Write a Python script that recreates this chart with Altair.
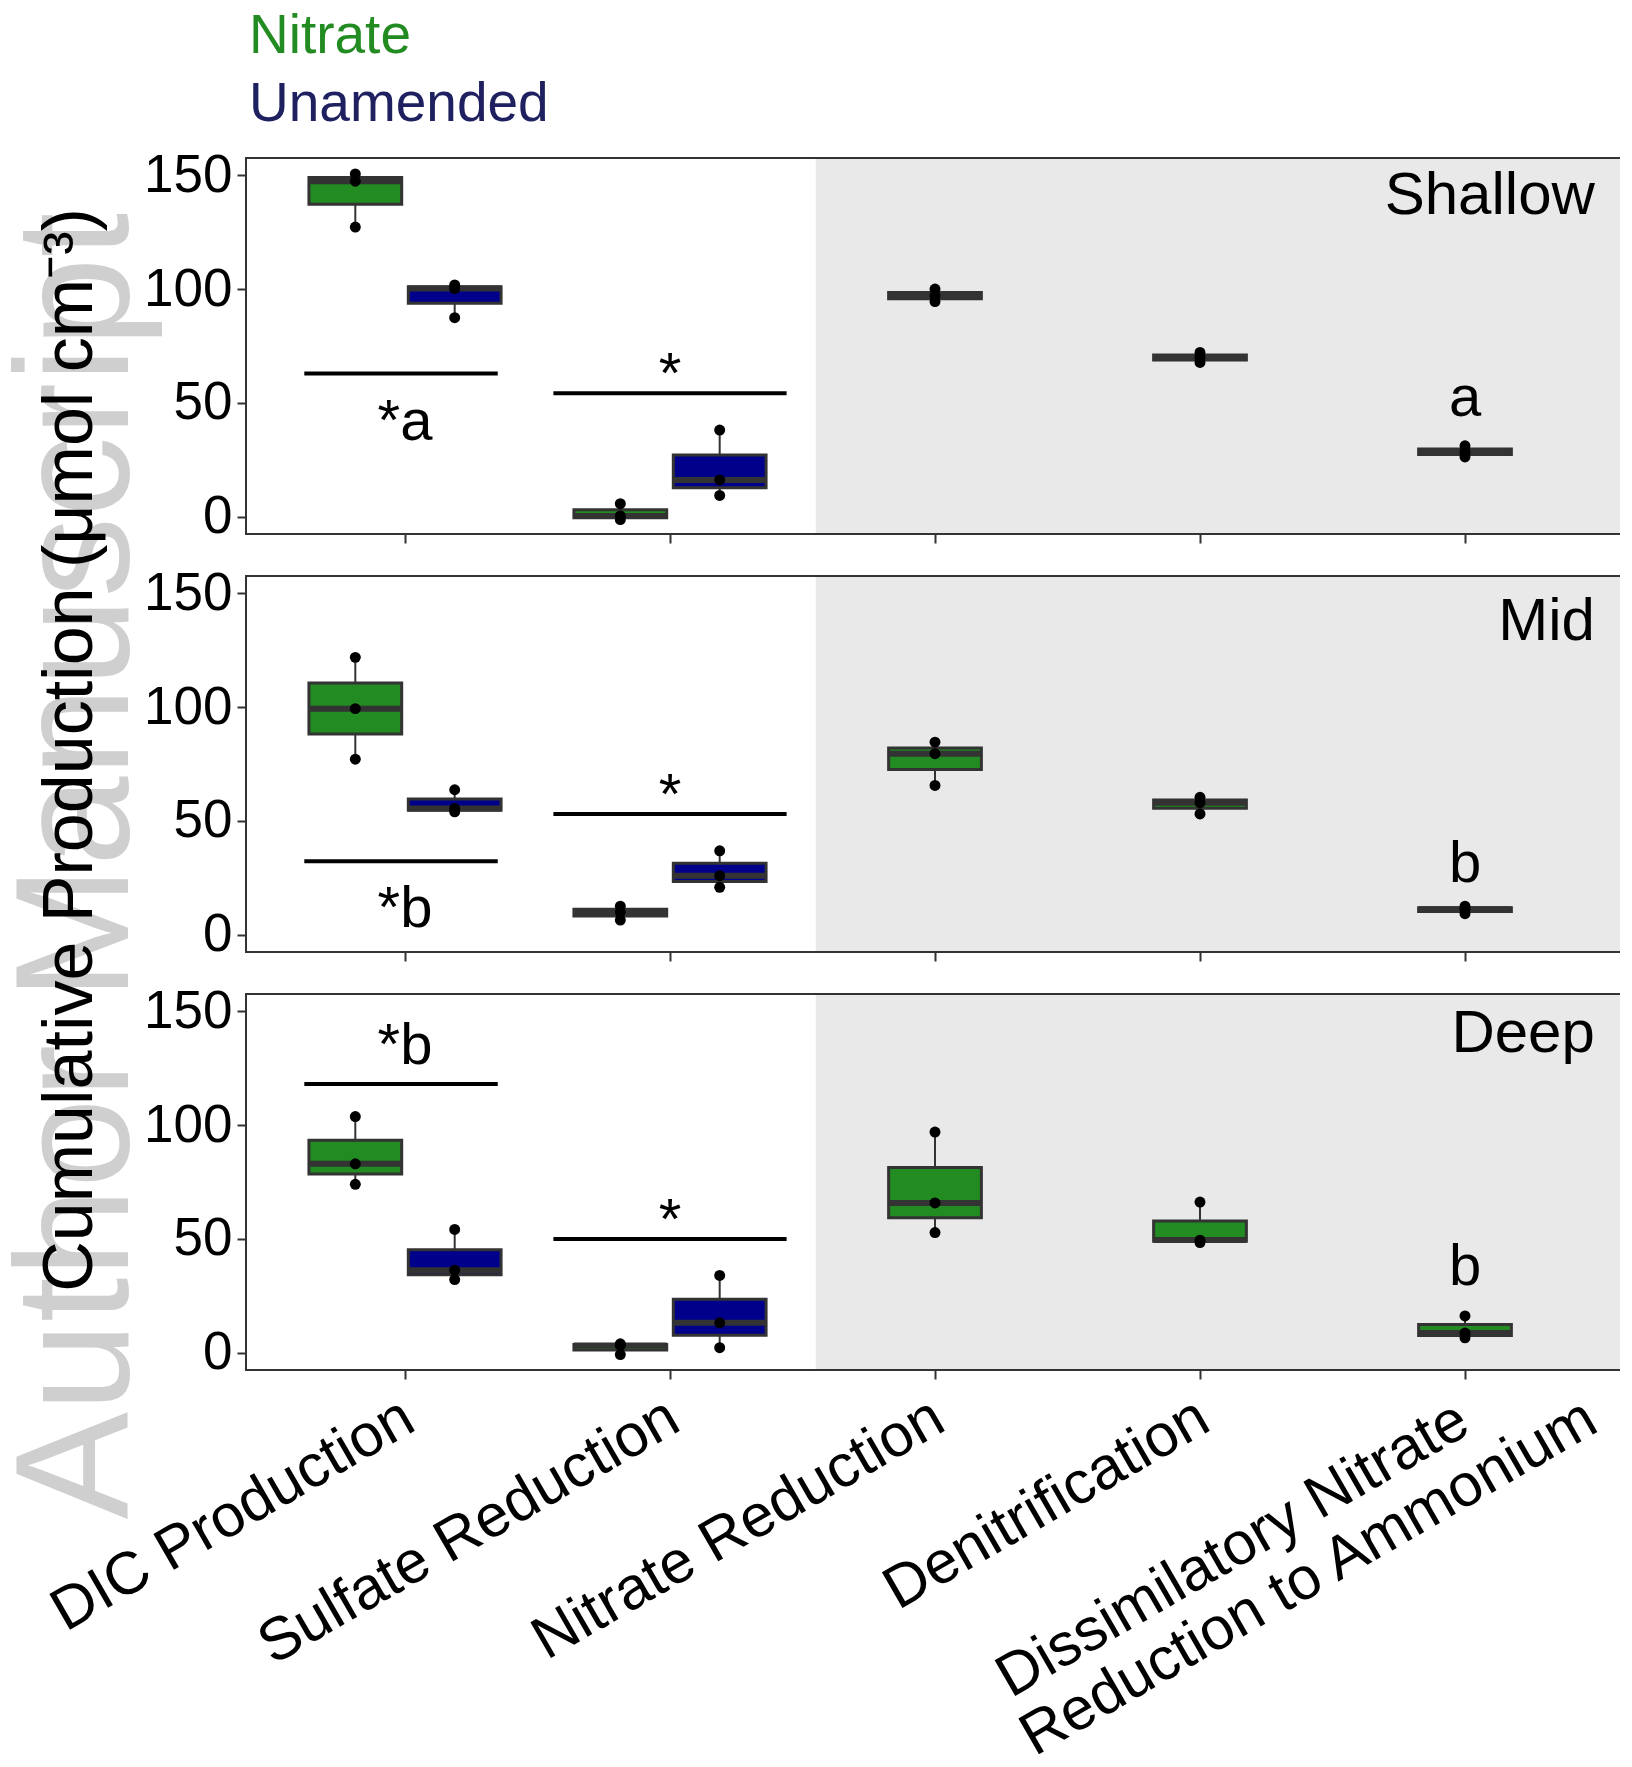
import altair as alt
import pandas as pd

FONT = "Liberation Sans"

# ---------------- data ----------------
depths = ["Shallow", "Mid", "Deep"]
category_index = [0, 1, 2, 3, 4]
label_line1 = ["DIC Production", "Sulfate Reduction", "Nitrate Reduction",
               "Denitrification", "Dissimilatory Nitrate"]
label_line2 = "Reduction to Ammonium"
treatments = ["Nitrate", "Unamended"]
treatment_colors = ["#228B22", "#00008B"]
legend_colors = ["#228B22", "#1E2060"]

# three replicate values per box (per category index)
shallow_nitrate = [[127.2, 147.3, 150.5], [-1.2, 0.4, 5.8], [94.5, 97.0, 100.0],
                   [67.8, 70.0, 72.2], [26.3, 28.5, 31.2]]
shallow_unamended = [[87.4, 100.2, 101.8], [9.4, 16.2, 38.1]]
mid_nitrate = [[77.1, 99.3, 121.8], [6.5, 10.0, 12.6], [65.6, 79.5, 84.6],
               [53.1, 58.0, 60.4], [9.3, 11.3, 12.6]]
mid_unamended = [[54.0, 55.5, 63.7], [20.9, 26.0, 36.9]]
deep_nitrate = [[74.0, 83.0, 103.7], [-0.7, 3.3, 4.0], [52.8, 65.8, 96.9],
                [48.4, 49.5, 66.2], [6.6, 8.7, 16.2]]
deep_unamended = [[32.2, 36.3, 54.2], [2.3, 13.2, 34.0]]

nitrate_sets = {"Shallow": shallow_nitrate, "Mid": mid_nitrate, "Deep": deep_nitrate}
unamended_sets = {"Shallow": shallow_unamended, "Mid": mid_unamended, "Deep": deep_unamended}

# significance brackets: [DIC, Sulfate] y-values; x extents in category units
bracket_y = {"Shallow": [62.9, 54.3], "Mid": [32.3, 53.1], "Deep": [118.0, 50.0]}
bracket_x0 = [-0.38, 0.56]
bracket_x1 = [0.35, 1.44]

sig_text = {"Shallow": ["*a", "*", "a"], "Mid": ["*b", "*", "b"], "Deep": ["*b", "*", "b"]}
sig_text_y = {"Shallow": [33.6, 54.3, 44.2], "Mid": [3.4, 53.1, 23.1], "Deep": [126.9, 50.0, 29.7]}
sig_text_x = [0, 1, 4]
panel_label_y = {"Shallow": 133.0, "Mid": 129.5, "Deep": 132.0}

y_title = "Cumulative Production (\u03bcmol cm\u207b\u00b3)"
watermark = "Author Manuscript"

# ---------------- layout ----------------
W, H = 1378, 376
DODGE = 0.1875
HALF = 0.175

xscale = alt.Scale(domain=[-0.6, 4.6], nice=False, zero=False)
yscale = alt.Scale(domain=[-7.5, 157.5], nice=False, zero=False)
xaxis = alt.Axis(values=category_index, labels=False, title=None, grid=False, domain=False,
                 ticks=True, tickSize=9, tickWidth=2, tickColor="#333333")
yaxis = alt.Axis(values=[0, 50, 100, 150], title=None, grid=False, domain=False,
                 tickSize=9, tickWidth=2, tickColor="#333333", labelFont=FONT,
                 labelFontSize=53, labelColor="black", labelPadding=5)


def X(f):
    return alt.X(f, type="quantitative", scale=xscale, axis=xaxis)


def Y(f):
    return alt.Y(f, type="quantitative", scale=yscale, axis=yaxis)


def panel_df(depth):
    rows = []
    nit = nitrate_sets[depth]
    una = unamended_sets[depth]
    for i, vals in enumerate(nit):
        xpos = i - DODGE if i < len(una) else i
        for v in vals:
            rows.append({"cat": i, "treatment": "Nitrate", "xpos": xpos, "value": v})
    for i, vals in enumerate(una):
        for v in vals:
            rows.append({"cat": i, "treatment": "Unamended", "xpos": i + DODGE, "value": v})
    return pd.DataFrame(rows)


one = pd.DataFrame({"a": [0]})


def make_panel(depth, pidx):
    df = panel_df(depth)
    base = alt.Chart(df)

    bg = alt.Chart(pd.DataFrame({"x0": [1.55], "x1": [4.6]})).mark_rect(
        color="#e8e9e8").encode(x=X("x0"), x2="x1", y=alt.value(0), y2=alt.value(H))

    br = alt.Chart(pd.DataFrame({"x0": bracket_x0, "x1": bracket_x1, "y": bracket_y[depth]})
                   ).mark_rule(color="black", strokeWidth=4).encode(x=X("x0"), x2="x1", y=Y("y"))

    agg = base.transform_aggregate(
        q1="q1(value)", q3="q3(value)", med="median(value)", lo="min(value)", hi="max(value)",
        groupby=["xpos", "treatment"]
    ).transform_calculate(xl=f"datum.xpos - {HALF}", xr=f"datum.xpos + {HALF}")

    whisk = agg.mark_rule(color="#333333", strokeWidth=2).encode(x=X("xpos"), y=Y("lo"), y2="hi")
    box = agg.mark_rect(stroke="#333333", strokeWidth=3).encode(
        x=X("xl"), x2="xr", y=Y("q1"), y2="q3",
        fill=alt.Fill("treatment:N", scale=alt.Scale(domain=treatments, range=treatment_colors),
                      legend=None))
    med = agg.mark_rule(color="#333333", strokeWidth=6).encode(x=X("xl"), x2="xr", y=Y("med"))
    pts = base.mark_circle(color="black", size=120, opacity=1).encode(x=X("xpos"), y=Y("value"))

    ann = alt.Chart(pd.DataFrame({"x": sig_text_x, "y": sig_text_y[depth], "t": sig_text[depth]})
                    ).mark_text(font=FONT, fontSize=58, align="center", baseline="alphabetic",
                                color="black").encode(x=X("x"), y=Y("y"), text="t:N")

    plab = alt.Chart(pd.DataFrame({"x": [4.49], "y": [panel_label_y[depth]], "t": [depth]})
                     ).mark_text(font=FONT, fontSize=60, align="right", baseline="alphabetic",
                                 color="black").encode(x=X("x"), y=Y("y"), text="t:N")

    border = alt.Chart(one).mark_rect(filled=False, color="#333333", strokeWidth=2).encode(
        x=alt.value(0), x2=alt.value(W), y=alt.value(0), y2=alt.value(H))

    layers = [bg, br, whisk, box, med, pts, ann, plab, border]

    if pidx == 0:
        for t, c, yy in zip(treatments, legend_colors, [-105, -37]):
            layers.append(alt.Chart(one).mark_text(
                text=t, font=FONT, fontSize=55, align="left", baseline="alphabetic", color=c
            ).encode(x=alt.value(3), y=alt.value(yy)))

    if pidx == 1:
        layers.insert(0, alt.Chart(one).mark_text(
            text=watermark, font=FONT, fontSize=161, angle=270, align="center",
            baseline="alphabetic", color="#cfcfcf"
        ).encode(x=alt.value(-118), y=alt.value(290)))
        layers.append(alt.Chart(one).mark_text(
            text=y_title, font=FONT, fontSize=70, angle=270, align="center",
            baseline="alphabetic", color="black"
        ).encode(x=alt.value(-154), y=alt.value(174)))

    if pidx == 2:
        lab_df = pd.DataFrame({"x": category_index[:4], "t": label_line1[:4]})
        layers.append(alt.Chart(lab_df).mark_text(
            font=FONT, fontSize=60, angle=330, align="right", baseline="top", color="black", dx=-12
        ).encode(x=X("x"), y=alt.value(H + 12), text="t:N"))
        d1 = pd.DataFrame({"x": [category_index[4]], "t": [label_line1[4]]})
        layers.append(alt.Chart(d1).mark_text(
            font=FONT, fontSize=60, angle=330, align="right", baseline="top", color="black", dx=-18
        ).encode(x=X("x"), y=alt.value(H + 12), text="t:N"))
        d2 = pd.DataFrame({"x": [category_index[4]], "t": [label_line2]})
        layers.append(alt.Chart(d2).mark_text(
            font=FONT, fontSize=60, angle=330, align="left", baseline="top", color="black",
            dx=-560, dy=62.5
        ).encode(x=X("x"), y=alt.value(H + 12), text="t:N"))

    return alt.layer(*layers).properties(width=W, height=H)


panels = [make_panel(d, i) for i, d in enumerate(depths)]

chart = alt.vconcat(*panels, spacing=42, bounds="flush").properties(
    padding={"left": -10, "top": 0, "right": -6, "bottom": -14},
    background="white",
).configure_view(stroke="transparent")

chart.save("out.html", embed_options={"renderer": "svg", "actions": False})
